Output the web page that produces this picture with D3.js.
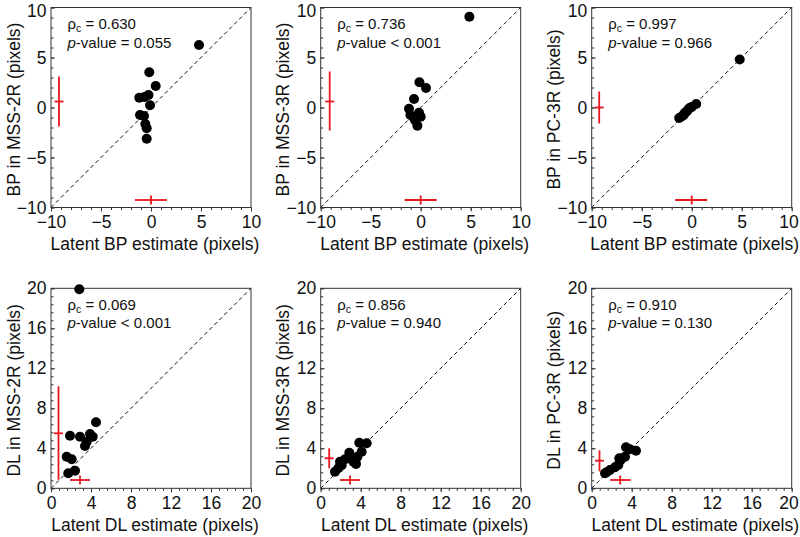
<!DOCTYPE html>
<html><head><meta charset="utf-8">
<script src="https://cdn.jsdelivr.net/npm/d3@7"></script>
<style>body{margin:0;background:#fff}svg{display:block}text{font-family:"Liberation Sans",Arial,Helvetica,sans-serif;fill:#111}</style>
</head><body><svg id="c" width="800" height="537"></svg>
<script>
// ---- data ----
const bpDomain = [-10, 10];
const dlDomain = [0, 20];
const bpTicks = [-10, -5, 0, 5, 10];
const dlTicks = [0, 4, 8, 12, 16, 20];
const xTitles = ["Latent BP estimate (pixels)", "Latent BP estimate (pixels)", "Latent BP estimate (pixels)",
                 "Latent DL estimate (pixels)", "Latent DL estimate (pixels)", "Latent DL estimate (pixels)"];
const yTitles = ["BP in MSS-2R (pixels)", "BP in MSS-3R (pixels)", "BP in PC-3R (pixels)",
                 "DL in MSS-2R (pixels)", "DL in MSS-3R (pixels)", "DL in PC-3R (pixels)"];
const rhoC = ["0.630", "0.736", "0.997", "0.069", "0.856", "0.910"];
const pValues = ["= 0.055", "< 0.001", "= 0.966", "< 0.001", "= 0.940", "= 0.130"];

const bpMss2rX = [4.8, -0.17, 0.47, -1.17, -0.65, -0.25, -0.1, -1.1, -0.7, -0.57, -0.43, -0.43];
const bpMss2rY = [6.25, 3.52, 2.15, 0.98, 1.05, 1.25, 0.22, -0.75, -0.85, -1.65, -2.08, -3.12];
const bpMss3rX = [4.87, -0.13, 0.53, -0.67, -1.17, -1.03, -0.73, -0.17, 0.0, -0.33, -0.55];
const bpMss3rY = [9.08, 2.52, 1.95, 0.85, -0.12, -0.75, -0.98, -0.52, -0.92, -1.82, -1.3];
const bpPc3rX = [4.8, 0.45, 0, -0.2, -0.35, -0.5, -0.7, -0.8, -1.0, -1.25];
const bpPc3rY = [4.8, 0.35, 0.05, -0.05, -0.2, -0.4, -0.55, -0.75, -0.9, -1.05];
const dlMss2rX = [2.83, 1.9, 2.9, 3.9, 4.17, 4.5, 3.57, 3.4, 1.57, 2.07, 1.73, 2.4];
const dlMss2rY = [19.9, 5.26, 5.16, 5.43, 5.16, 6.6, 4.66, 4.23, 3.16, 2.9, 1.5, 1.76];
const dlMss3rX = [1.43, 1.76, 1.93, 2.1, 2.43, 2.86, 3.1, 3.27, 3.53, 3.67, 4.1, 3.86, 4.6];
const dlMss3rY = [1.66, 2.0, 2.66, 2.3, 2.9, 3.56, 2.9, 2.66, 2.43, 3.16, 3.66, 4.56, 4.5];
const dlPc3rX = [1.33, 1.5, 1.83, 2.33, 2.66, 2.76, 2.9, 3.33, 3.43, 3.83, 4.43];
const dlPc3rY = [1.5, 1.6, 1.83, 2.1, 2.33, 3.0, 2.83, 3.16, 4.1, 3.9, 3.76];

// error crosses: vertical bar [x, centre, low, high], horizontal bar [y, centre, low, high]
const vBars = [[-9.2, 0.6, -1.9, 3.1], [-9.1, 0.6, -2.3, 3.6], [-9.25, 0, -1.6, 1.6],
               [0.75, 5.5, 0.85, 10.2], [0.85, 3.0, 2.0, 4.0], [0.78, 2.76, 1.7, 3.8]];
const hBars = [[-9.25, 0, -1.6, 1.6], [-9.25, 0, -1.6, 1.6], [-9.25, 0, -1.65, 1.55],
               [0.83, 2.9, 1.9, 3.9], [0.83, 2.93, 1.93, 3.93], [0.83, 2.85, 1.85, 3.9]];

const xsets = [bpMss2rX, bpMss3rX, bpPc3rX, dlMss2rX, dlMss3rX, dlPc3rX];
const ysets = [bpMss2rY, bpMss3rY, bpPc3rY, dlMss2rY, dlMss3rY, dlPc3rY];

// ---- layout ----
const lefts = [51, 320.7, 591.7];
const tops = [7.5, 288.3];
const S = 200;
const W = 800;
const svg = d3.select("#c");
const red = "#e8161e";

for (let i = 0; i < 6; i++) {
  const col = i % 3, row = Math.floor(i / 3);
  const dom = row === 0 ? bpDomain : dlDomain;
  const ticks = row === 0 ? bpTicks : dlTicks;
  const step = ticks[1] - ticks[0];
  const minor = d3.range(dom[0], dom[1] + 1e-9, step / 5);
  const g = svg.append("g").attr("transform", `translate(${lefts[col]},${tops[row]})`);
  const x = d3.scaleLinear().domain(dom).range([0, S]);
  const y = d3.scaleLinear().domain(dom).range([S, 0]);
  const fmt = d => d < 0 ? "\u2212" + Math.abs(d) : String(d);

  // minor ticks
  const xMin = d3.axisBottom(x).tickValues(minor).tickSize(2.5).tickFormat("");
  const yMin = d3.axisRight(y).tickValues(minor).tickSize(2.5).tickFormat("");
  g.append("g").attr("transform", `translate(0,${S})`).call(xMin).call(a => a.select(".domain").remove());
  g.append("g").call(yMin).call(a => a.select(".domain").remove());
  // major ticks
  const xAx = d3.axisBottom(x).tickValues(ticks).tickSize(4).tickPadding(4.5).tickFormat(fmt);
  const yAx = d3.axisRight(y).tickValues(ticks).tickSize(4).tickFormat(fmt);
  const gx = g.append("g").attr("transform", `translate(0,${S})`).call(xAx);
  gx.select(".domain").remove();
  gx.selectAll("text").attr("font-size", 17.5).attr("font-family", null).attr("fill", "#111");
  const gy = g.append("g").call(yAx);
  gy.select(".domain").remove();
  gy.selectAll("text").attr("x", -4.5).attr("text-anchor", "end").attr("font-size", 17.5).attr("font-family", null).attr("fill", "#111");
  g.selectAll(".tick line").attr("stroke", "#333");

  // diagonal
  g.append("line").attr("x1", x(dom[0])).attr("y1", y(dom[0])).attr("x2", x(dom[1])).attr("y2", y(dom[1]))
    .attr("stroke", "#111").attr("stroke-width", 1).attr("stroke-dasharray", "4,3");

  // frame
  g.append("rect").attr("width", S).attr("height", S).attr("fill", "none").attr("stroke", "#333").attr("stroke-width", 1);

  // error crosses
  const vb = vBars[i], hb = hBars[i];
  const cr = g.append("g").attr("stroke", red).attr("stroke-width", 1.8);
  cr.append("line").attr("x1", x(vb[0])).attr("x2", x(vb[0])).attr("y1", y(vb[2])).attr("y2", y(vb[3]));
  cr.append("line").attr("x1", x(vb[0]) - 4.5).attr("x2", x(vb[0]) + 4.5).attr("y1", y(vb[1])).attr("y2", y(vb[1]));
  cr.append("line").attr("y1", y(hb[0])).attr("y2", y(hb[0])).attr("x1", x(hb[2])).attr("x2", x(hb[3]));
  cr.append("line").attr("y1", y(hb[0]) - 4.5).attr("y2", y(hb[0]) + 4.5).attr("x1", x(hb[1])).attr("x2", x(hb[1]));

  // points
  g.append("g").selectAll("circle").data(d3.zip(xsets[i], ysets[i])).join("circle")
    .attr("cx", d => x(d[0])).attr("cy", d => y(d[1])).attr("r", 5).attr("fill", "#000");

  // annotation
  const t1 = g.append("text").attr("x", 16.5).attr("y", 21.5).attr("font-size", 15);
  t1.append("tspan").text("\u03c1");
  t1.append("tspan").attr("font-size", 10.5).attr("dy", 3).text("c");
  t1.append("tspan").attr("dy", -3).text(" = " + rhoC[i]);
  const t2 = g.append("text").attr("x", 16.5).attr("y", 40).attr("font-size", 15);
  t2.append("tspan").attr("font-style", "italic").text("p");
  t2.append("tspan").text("-value " + pValues[i]);

  // axis titles
  g.append("text").attr("x", S / 2 + 4).attr("y", S + 42.5).attr("text-anchor", "middle").attr("font-size", 17.5).text(xTitles[i]);
  g.append("text").attr("transform", `translate(-31.5,${S / 2 + 2}) rotate(-90)`).attr("text-anchor", "middle")
    .attr("font-size", 17.5).text(yTitles[i]);
}

// keep texts inside the picture: shift any text that would run past the right or top edge
svg.selectAll("text").each(function () {
  const b = this.getBoundingClientRect();
  if (b.right > W - 1) {
    const cur = +this.getAttribute("x") || 0;
    this.setAttribute("x", cur - (b.right - (W - 1)));
  }
  if (b.top < 0.5) {
    const t = d3.select(this);
    const dyAttr = t.attr("dy") || "0";
    t.attr("transform", `translate(0,${0.5 - b.top})`);
  }
});
</script></body></html>
